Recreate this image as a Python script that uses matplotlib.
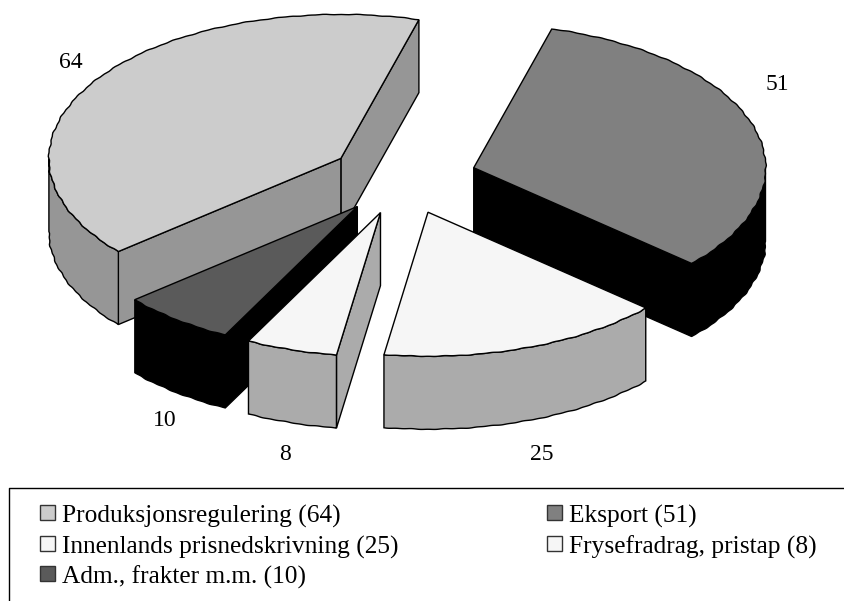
import numpy as np
from matplotlib import pyplot as plt
from matplotlib.patches import Polygon, Rectangle

# legend order
names = ["Produksjonsregulering", "Eksport", "Innenlands prisnedskrivning",
         "Frysefradrag, pristap", "Adm., frakter m.m."]
values = [64, 51, 25, 8, 10]

# order of the slices round the pie, counter clockwise from the start angle
slice_order = [0, 4, 3, 2, 1]
# drawing order, back to front
draw_order = [0, 1, 4, 2, 3]

top_colors = ["#cccccc", "#808080", "#f6f6f6", "#f6f6f6", "#5a5a5a"]
side_colors = ["#969696", "#000000", "#ababab", "#ababab", "#000000"]
label_pos = [(71, 62), (777, 85), (542, 454), (285, 455), (165, 421)]

CX, CY = 403, 178
RX, RY = 292, 144
DEPTH = 73
EXPLODE = 0.2525
START = 74.5


def rim(theta):
    # the edge of the original is a bit rough
    t = np.radians(theta)
    ripple = 1 + 0.0016 * np.sin(t * 47) + 0.0012 * np.sin(t * 113)
    return RX * ripple * np.cos(t), -RY * ripple * np.sin(t)


fig = plt.figure(figsize=(8.45, 6.01), dpi=100)
ax = fig.add_axes([0, 0, 1, 1])
ax.set_xlim(0, 845)
ax.set_ylim(601, 0)
ax.axis("off")
plt.rcParams["font.family"] = ["Liberation Serif", "DejaVu Serif"]

spans = np.array([values[i] for i in slice_order]) * 360.0 / sum(values)
starts = START + np.concatenate([[0], np.cumsum(spans)[:-1]])
angles = {i: (starts[k], starts[k] + spans[k]) for k, i in enumerate(slice_order)}

for i in draw_order:
    t1, t2 = angles[i]
    mid = np.radians((t1 + t2) / 2)
    ax0 = CX + EXPLODE * RX * np.cos(mid)
    ay0 = CY - EXPLODE * RY * np.sin(mid)
    th = np.linspace(t1, t2, 200)
    rx, ry = rim(th)
    xs = ax0 + rx
    ys = ay0 + ry

    # radial walls that face the viewer
    for t, normal in ((t1, t1 - 90), (t2, t2 + 90)):
        if np.sin(np.radians(normal)) < 0:
            ex = ax0 + RX * np.cos(np.radians(t))
            ey = ay0 - RY * np.sin(np.radians(t))
            ax.add_patch(Polygon([(ax0, ay0), (ex, ey), (ex, ey + DEPTH), (ax0, ay0 + DEPTH)],
                                 fc=side_colors[i], ec="black", lw=1, zorder=2 + draw_order.index(i)))

    # outer side, only the part of the rim in front
    front = np.sin(np.radians(th)) <= 0
    if front.any():
        fx, fy = xs[front], ys[front]
        pts = np.vstack([np.column_stack([fx, fy]),
                         np.column_stack([fx[::-1], fy[::-1] + DEPTH])])
        ax.add_patch(Polygon(pts, fc=side_colors[i], ec="black", lw=1, zorder=2 + draw_order.index(i)))

    top = np.vstack([[(ax0, ay0)], np.column_stack([xs, ys])])
    ax.add_patch(Polygon(top, fc=top_colors[i], ec="black", lw=1, zorder=2.5 + draw_order.index(i)))

for v, (lx, ly) in zip(values, label_pos):
    ax.text(lx, ly, str(v), ha="center", va="center", fontsize=17, color="black")

# legend box, only top and left side are drawn
ax.plot([9, 9, 845], [601, 488, 488], color="black", lw=1)

legend_x = [40, 547, 40, 547, 40]
legend_y = [513, 513, 544, 544, 574]
for name, v, c, lx, ly in zip(names, values, top_colors, legend_x, legend_y):
    ax.add_patch(Rectangle((lx, ly - 8), 15, 15, fc=c, ec="#333333", lw=1))
    ax.text(lx + 22, ly + 9.5, f"{name} ({v})", ha="left", va="baseline", fontsize=18.3, color="black")

fig.savefig("out.png", dpi=100)
